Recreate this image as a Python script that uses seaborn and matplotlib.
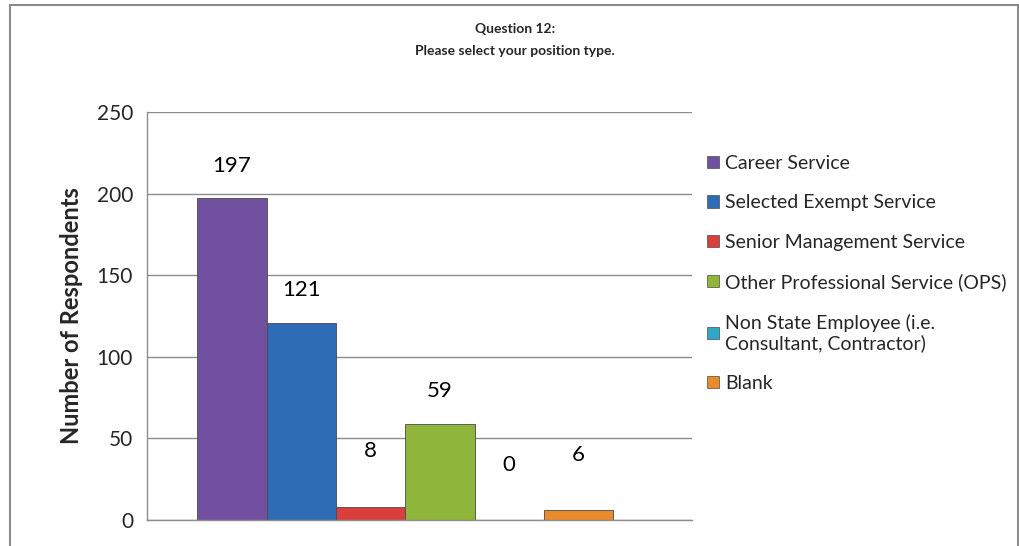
import matplotlib
matplotlib.use("Agg")
import matplotlib.pyplot as plt
import matplotlib.patches as mpatches
import seaborn as sns
import pandas as pd

categories = ["Career Service", "Selected Exempt Service", "Senior Management Service",
              "Other Professional Service (OPS)", "Non State Employee (i.e.\nConsultant, Contractor)",
              "Blank"]
counts = [197, 121, 8, 59, 0, 6]
colors = ["#71519f", "#2e6db5", "#d9403d", "#8fb53b", "#31a7c8", "#ea8a2a"]
yticks = [0, 50, 100, 150, 200, 250]

sns.set_theme(style="white")
plt.rcParams['font.family'] = ['Lato', 'DejaVu Sans']

df = pd.DataFrame({"group": [""] * len(categories), "category": categories, "count": counts})

fig = plt.figure(figsize=(10.2, 5.46), dpi=100)
ax = fig.add_axes([0.1441, 0.0476, 0.5343, 0.7473])

sns.barplot(data=df, x="group", y="count", hue="category", hue_order=categories,
            palette=colors, saturation=1, width=0.763, edgecolor="#4a4a4a", linewidth=0.6,
            ax=ax, legend=False)

# Excel pushes the labels of the short bars a bit higher
for bar, val in zip(ax.patches, counts):
    off = 20 if val > 50 else 34
    ax.text(bar.get_x() + bar.get_width() / 2, val + off, str(val),
            ha="center", va="center", fontsize=16, color="black")

ax.set_ylim(0, 250)
ax.set_xlim(-0.474, 0.526)
ax.set_yticks(yticks)
ax.set_yticklabels([str(t) for t in yticks], fontsize=15)
ax.tick_params(axis="y", pad=10, length=0)
ax.set_xticks([])
ax.set_xlabel("")
ax.set_ylabel("Number of Respondents", fontsize=17, fontweight="bold", labelpad=10)
ax.yaxis.grid(True, color="#8c8c8c", linewidth=1)
ax.set_axisbelow(True)
for s in ["top", "right"]:
    ax.spines[s].set_visible(False)
for s in ["left", "bottom"]:
    ax.spines[s].set_color("#8c8c8c")
    ax.spines[s].set_linewidth(1)

handles = [mpatches.Patch(facecolor=c, edgecolor="#4a4a4a", linewidth=0.5, label=l)
           for c, l in zip(colors, categories)]
fig.legend(handles=handles, loc="upper left", bbox_to_anchor=(0.676, 0.748),
           frameon=False, fontsize=14, handlelength=0.6, handleheight=0.6,
           handletextpad=0.35, labelspacing=1.15)

fig.text(0.505, 0.926, "Question 12:\nPlease select your position type.",
         ha="center", va="center", fontsize=10, fontweight="bold", linespacing=2.0)

fig.patches.append(mpatches.Rectangle((0.010, -0.05), 0.988, 1.04, transform=fig.transFigure,
                                      fill=False, edgecolor="#8c8c8c", linewidth=1.5))

fig.savefig("out.png", dpi=100)
